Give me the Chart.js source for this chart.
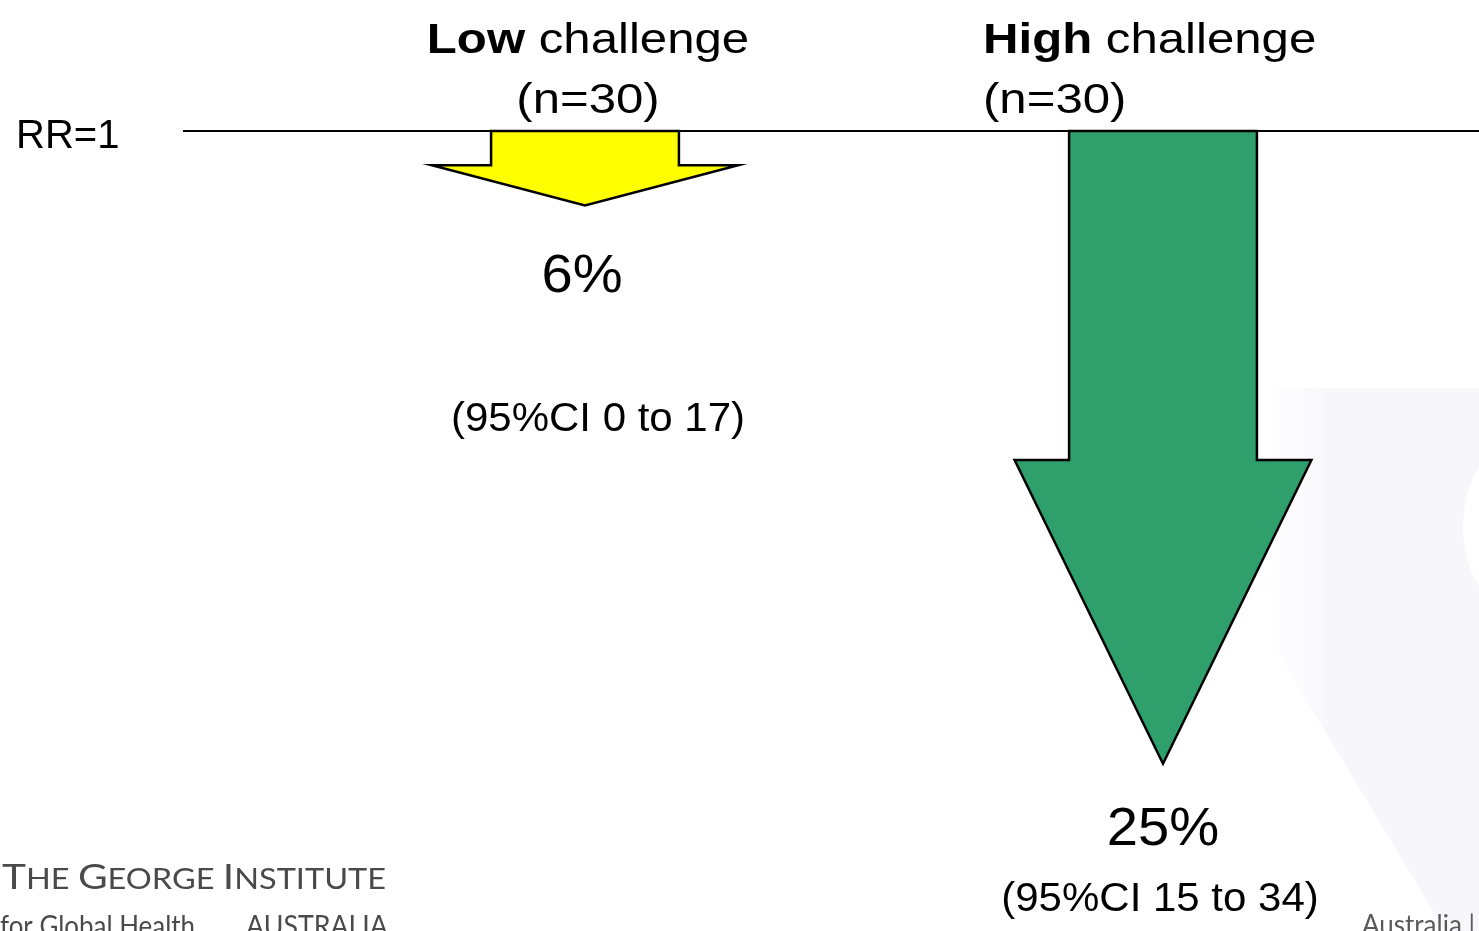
<!DOCTYPE html>
<html>
<head>
<meta charset="utf-8">
<title>Risk reduction by challenge level</title>
<script src="https://cdn.jsdelivr.net/npm/chart.js@4.4.1/dist/chart.umd.min.js"></script>
<style>
  html, body { margin: 0; padding: 0; background: #ffffff; }
  #wrap { width: 1479px; height: 931px; overflow: hidden; }
</style>
</head>
<body>
<div id="wrap"><canvas id="rrChart" width="1479" height="931"></canvas></div>
<script>
const groups = ['Low', 'High'];
const groupSuffix = ' challenge';
const sampleSizes = [30, 30];
const reductions = [6, 25];
const ciLower = [0, 15];
const ciUpper = [17, 34];

const FONT = '"Liberation Sans", Arial, Helvetica, sans-serif';
const LOGO_FONT = 'Lato, "Open Sans", sans-serif';

// Vertical axis where the distance from RR=1 grows with value^exponent
class PowerScale extends Chart.LinearScale {
  static id = 'power';
  static defaults = Chart.LinearScale.defaults;

  getPixelForValue(value) {
    const exp = this.options.exponent || 1;
    const t = (value - this.min) / (this.max - this.min);
    return this.getPixelForDecimal(Math.sign(t) * Math.pow(Math.abs(t), exp));
  }

  getValueForPixel(pixel) {
    const exp = this.options.exponent || 1;
    const d = this.getDecimalForPixel(pixel);
    return this.min + Math.sign(d) * Math.pow(Math.abs(d), 1 / exp) * (this.max - this.min);
  }
}
Chart.register(PowerScale);

// Arrow look, one entry per group
const arrowStyle = {
  fill: ['#ffff00', '#2f9f6b'],
  headLength: [0.54, 0.48], // share of the arrow taken by the head
  headWidth: [1.63, 1.58]   // head width relative to the shaft
};

// Label placement, one entry per group
const labelStyle = {
  headerAlign: ['center', 'left'],
  headerDx: [3, -180],
  pctDx: [-3, 0],
  pctDy: [87, 81],
  ciDx: [13, -3],
  ciDy: [226, 147]
};

function drawStretched(ctx, text, x, y, font, align, sx) {
  ctx.save();
  ctx.font = font;
  ctx.textAlign = align;
  ctx.textBaseline = 'alphabetic';
  ctx.translate(x, y);
  ctx.scale(sx, 1);
  ctx.fillText(text, 0, 0);
  ctx.restore();
}

function drawFitted(ctx, text, x, y, font, width) {
  ctx.save();
  ctx.font = font;
  ctx.textAlign = 'left';
  const natural = ctx.measureText(text).width;
  ctx.translate(x, y);
  ctx.scale(width / natural, 1);
  ctx.fillText(text, 0, 0);
  ctx.restore();
}

// Faint watermark shape behind the chart
const slideBackdrop = {
  id: 'slideBackdrop',
  beforeDraw(chart) {
    const ctx = chart.ctx;
    ctx.save();
    const grad = ctx.createLinearGradient(1262, 0, 1335, 0);
    grad.addColorStop(0, 'rgba(246,245,250,0)');
    grad.addColorStop(1, 'rgba(246,245,250,0.85)');
    ctx.fillStyle = grad;
    ctx.beginPath();
    ctx.moveTo(1262, 388);
    ctx.lineTo(1479, 388);
    ctx.lineTo(1479, 931);
    ctx.lineTo(1445, 931);
    ctx.lineTo(1243, 595);
    ctx.closePath();
    ctx.fill();
    ctx.fillStyle = '#ffffff';
    ctx.beginPath();
    ctx.ellipse(1515, 527, 52, 82, 0, 0, Math.PI * 2);
    ctx.fill();
    ctx.restore();
  }
};

// Bars are drawn as block arrows hanging from the RR=1 line
const arrowPlugin = {
  id: 'arrowPlugin',
  afterDatasetsDraw(chart) {
    const ctx = chart.ctx;
    const meta = chart.getDatasetMeta(0);
    meta.data.forEach((bar, i) => {
      const { x, y, base, width } = bar.getProps(['x', 'y', 'base', 'width'], true);
      const len = y - base;
      const neck = y - len * arrowStyle.headLength[i];
      const hw = width / 2;
      const hh = width * arrowStyle.headWidth[i] / 2;
      ctx.save();
      ctx.beginPath();
      ctx.moveTo(x - hw, base);
      ctx.lineTo(x - hw, neck);
      ctx.lineTo(x - hh, neck);
      ctx.lineTo(x, y);
      ctx.lineTo(x + hh, neck);
      ctx.lineTo(x + hw, neck);
      ctx.lineTo(x + hw, base);
      ctx.closePath();
      ctx.fillStyle = arrowStyle.fill[i];
      ctx.fill();
      ctx.lineWidth = 2.5;
      ctx.lineJoin = 'miter';
      ctx.strokeStyle = '#000000';
      ctx.stroke();
      ctx.restore();
    });
  }
};

// Reference line, group headers, value and CI labels
const labelsPlugin = {
  id: 'labelsPlugin',
  afterDraw(chart) {
    const ctx = chart.ctx;
    const yScale = chart.scales.y;
    const ruleY = yScale.getPixelForValue(0);

    ctx.save();
    ctx.strokeStyle = '#000000';
    ctx.lineWidth = 2;
    ctx.beginPath();
    ctx.moveTo(183, ruleY);
    ctx.lineTo(chart.width, ruleY);
    ctx.stroke();

    ctx.fillStyle = '#000000';
    drawStretched(ctx, 'RR=1', 16, ruleY + 17, '40px ' + FONT, 'left', 1);

    const meta = chart.getDatasetMeta(0);
    const sx = 1.17;
    meta.data.forEach((bar, i) => {
      const bold = 'bold 42px ' + FONT;
      const regular = '42px ' + FONT;
      ctx.font = bold;
      const wBold = ctx.measureText(groups[i]).width;
      ctx.font = regular;
      const wReg = ctx.measureText(groupSuffix).width;
      const anchor = bar.x + labelStyle.headerDx[i];
      const start = labelStyle.headerAlign[i] === 'center'
        ? anchor - (wBold + wReg) * sx / 2
        : anchor;
      drawStretched(ctx, groups[i], start, 53, bold, 'left', sx);
      drawStretched(ctx, groupSuffix, start + wBold * sx, 53, regular, 'left', sx);

      const nText = '(n=' + sampleSizes[i] + ')';
      ctx.font = regular;
      const wN = ctx.measureText(nText).width;
      const nStart = labelStyle.headerAlign[i] === 'center' ? anchor - wN * sx / 2 : anchor;
      drawStretched(ctx, nText, nStart, 113, regular, 'left', sx);

      drawStretched(ctx, reductions[i] + '%', bar.x + labelStyle.pctDx[i],
        bar.y + labelStyle.pctDy[i], '54px ' + FONT, 'center', 1.04);
      drawStretched(ctx, '(95%CI ' + ciLower[i] + ' to ' + ciUpper[i] + ')',
        bar.x + labelStyle.ciDx[i], bar.y + labelStyle.ciDy[i], '40px ' + FONT, 'center', 1.05);
    });

    // institute mark, bottom left
    ctx.fillStyle = '#4a4a4a';
    const runs = [['T', 35], ['HE ', 28], ['G', 35], ['EORGE ', 28], ['I', 35], ['NSTITUTE', 28]];
    let natural = 0;
    runs.forEach(([t, s]) => { ctx.font = s + 'px ' + LOGO_FONT; natural += ctx.measureText(t).width; });
    const k = 384 / natural;
    let cx = 2;
    runs.forEach(([t, s]) => {
      ctx.font = s + 'px ' + LOGO_FONT;
      const w = ctx.measureText(t).width;
      drawStretched(ctx, t, cx, 889, ctx.font, 'left', k);
      cx += w * k;
    });
    drawFitted(ctx, 'for Global Health', 0, 936, '29px ' + LOGO_FONT, 195);
    drawFitted(ctx, 'AUSTRALIA', 246, 936, '29px ' + LOGO_FONT, 142);

    ctx.fillStyle = '#5a5a5a';
    drawStretched(ctx, 'Australia |', 1362, 934, '26px ' + LOGO_FONT, 'left', 1);
    ctx.restore();
  }
};

new Chart(document.getElementById('rrChart'), {
  type: 'bar',
  data: {
    labels: groups.map(g => g + groupSuffix),
    datasets: [{
      label: 'Risk reduction (%)',
      data: reductions,
      backgroundColor: 'rgba(0,0,0,0)',
      borderWidth: 0,
      categoryPercentage: 1,
      barPercentage: 0.325
    }]
  },
  options: {
    responsive: false,
    animation: false,
    events: [],
    layout: { padding: { left: 296, right: 27, top: 131, bottom: 50 } },
    scales: {
      x: { display: false },
      y: { type: 'power', exponent: 1.5, reverse: true, min: 0, max: 28, display: false }
    },
    plugins: {
      legend: { display: false },
      tooltip: { enabled: false }
    }
  },
  plugins: [slideBackdrop, arrowPlugin, labelsPlugin]
});
</script>
</body>
</html>
